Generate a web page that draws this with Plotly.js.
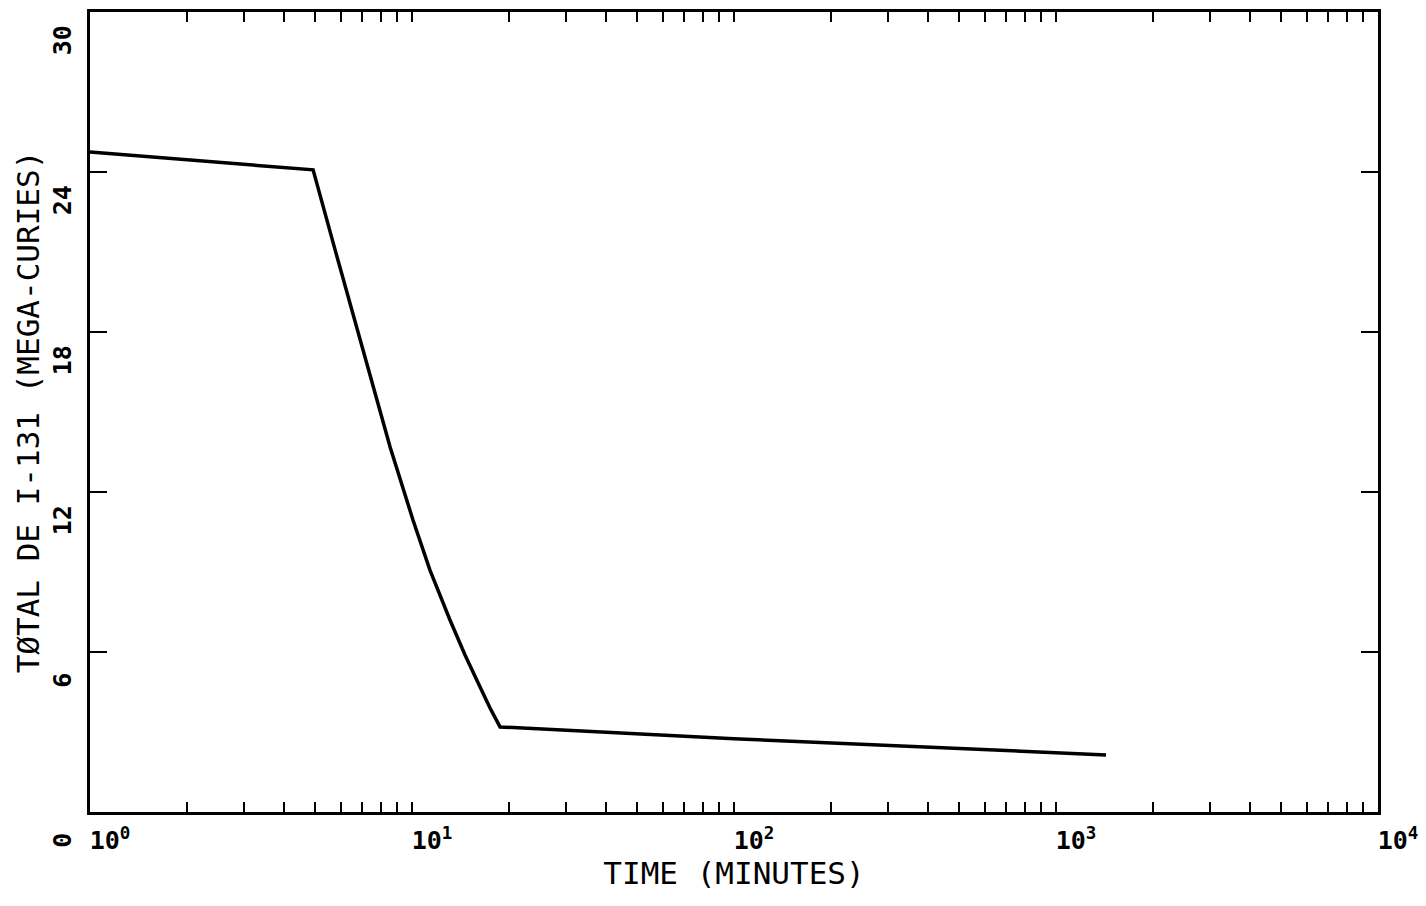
<!DOCTYPE html>
<html>
<head>
<meta charset="utf-8">
<script src="https://cdn.plot.ly/plotly-3.0.1.min.js"></script>
<style>
  html, body { margin: 0; padding: 0; background: #fff; }
  #chart { width: 1426px; height: 906px; }
</style>
</head>
<body>
<div id="chart"></div>
<script>
// Total I-131 inventory versus time after release
const timeMinutes = [1.0, 4.93, 5.77, 6.37, 7.04, 7.79, 8.55, 10.07, 11.37, 13.12, 14.61, 16.27, 17.47, 18.77, 100, 1430];
const megaCuries  = [24.75, 24.08, 21.08, 19.2, 17.33, 15.45, 13.69, 10.95, 9.07, 7.2, 5.89, 4.69, 3.9, 3.19, 2.75, 2.14];

const decades = [1, 10, 100, 1000, 10000];
const decadeLabels = ['10<sup>0</sup>', '10<sup>1</sup>', '10<sup>2</sup>', '10<sup>3</sup>', '10<sup>4</sup>'];
const yTicks = [0, 6, 12, 18, 24, 30];
const yTickLabels = ['0', '6', '12', '18', '24', '30'];

// minor log ticks at 2..9 of every decade
const minorVals = [];
decades.slice(0, -1).forEach(d => {
  for (let m = 2; m <= 9; m++) minorVals.push(d * m);
});

const font = 'DejaVu Sans Mono, monospace';

Plotly.newPlot('chart', [{
  x: timeMinutes,
  y: megaCuries,
  mode: 'lines',
  line: { color: '#000', width: 3.5, shape: 'linear' },
  hoverinfo: 'skip'
}], {
  width: 1426,
  height: 906,
  margin: { l: 90, r: 48, t: 12, b: 94 },
  paper_bgcolor: '#fff',
  plot_bgcolor: '#fff',
  showlegend: false,
  font: { family: font, color: '#000', size: 24 },
  xaxis: {
    type: 'log',
    range: [0, 4],
    tickmode: 'array',
    tickvals: decades,
    ticktext: decadeLabels,
    ticks: 'inside',
    ticklen: 10,
    tickwidth: 2,
    tickcolor: '#000',
    minor: {
      tickmode: 'array',
      tickvals: minorVals,
      ticks: 'inside',
      ticklen: 10,
      tickwidth: 2,
      tickcolor: '#000',
      showgrid: false
    },
    showline: true,
    linecolor: '#000',
    linewidth: 3,
    mirror: 'ticks',
    showgrid: false,
    zeroline: false,
    ticklabelshift: 20,
    ticklabelstandoff: 4,
    tickfont: { family: font, size: 25, weight: 'bold' },
    title: { text: 'TIME (MINUTES)', font: { family: font, size: 31 }, standoff: 0 }
  },
  yaxis: {
    range: [0, 30],
    tickmode: 'array',
    tickvals: yTicks,
    ticktext: yTickLabels,
    tickangle: -90,
    ticks: 'inside',
    ticklen: 17,
    tickwidth: 2,
    tickcolor: '#000',
    showline: true,
    linecolor: '#000',
    linewidth: 3,
    mirror: 'ticks',
    showgrid: false,
    zeroline: false,
    ticklabelshift: 32,
    ticklabelstandoff: 6,
    tickfont: { family: font, size: 25, weight: 'bold' },
    title: { text: 'TØTAL DE I-131 (MEGA-CURIES)', font: { family: font, size: 31 }, standoff: 0 }
  }
}, { displayModeBar: false, staticPlot: true });
</script>
</body>
</html>
